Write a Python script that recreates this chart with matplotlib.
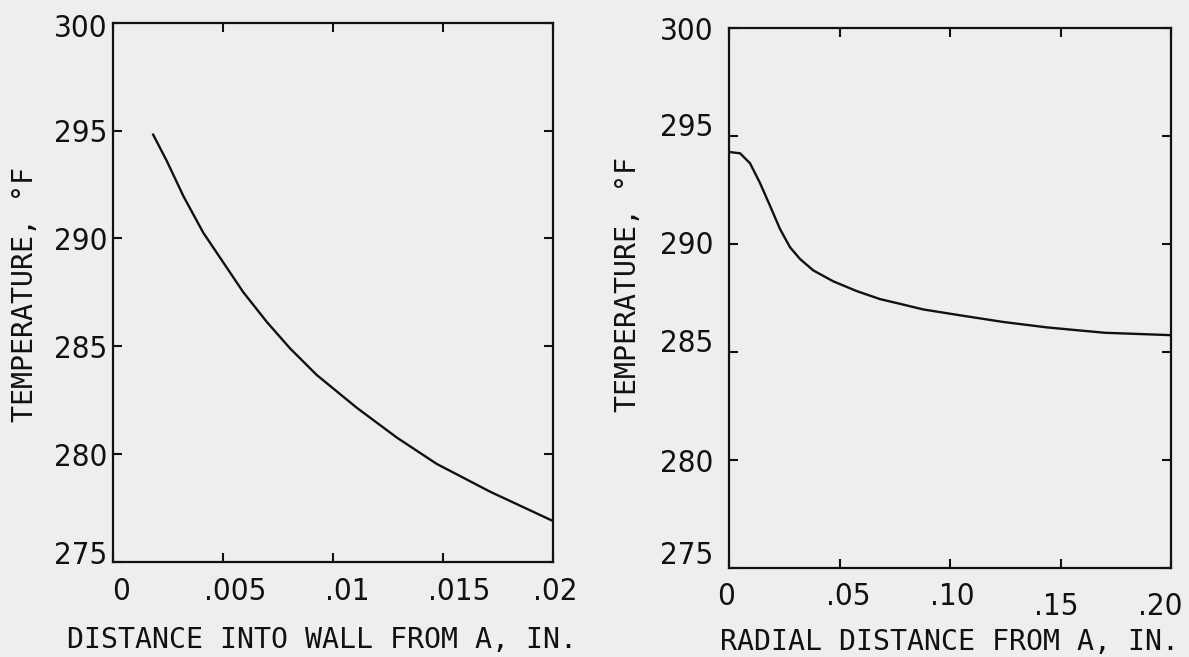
import matplotlib
matplotlib.use("Agg")
import matplotlib.pyplot as plt
from matplotlib.transforms import ScaledTranslation

# ---------------- data ----------------
x_wall = [0.0018, 0.00244, 0.0032, 0.0041, 0.00501, 0.00592, 0.00699, 0.00805,
          0.00926, 0.01108, 0.0129, 0.01471, 0.01714, 0.0200]
t_wall = [294.86, 293.60, 291.96, 290.27, 288.89, 287.51, 286.13, 284.90,
          283.67, 282.15, 280.77, 279.55, 278.26, 276.90]

x_rad = [0.0, 0.005, 0.0095, 0.014, 0.0186, 0.0231, 0.0276, 0.0321, 0.0381,
         0.0472, 0.0578, 0.0683, 0.0774, 0.0879, 0.1045, 0.1241, 0.1438,
         0.1573, 0.1701, 0.200]
t_rad = [294.26, 294.20, 293.74, 292.83, 291.76, 290.69, 289.85, 289.31,
         288.78, 288.27, 287.82, 287.45, 287.23, 286.97, 286.70, 286.39,
         286.14, 286.01, 285.89, 285.78]

y_ticks = [275, 280, 285, 290, 295, 300]
y_ticklabels = ["275", "280", "285", "290", "295", "300"]
xw_ticks = [0, 0.005, 0.01, 0.015, 0.02]
xw_ticklabels = ["0", ".005", ".01", ".015", ".02"]
xr_ticks = [0, 0.05, 0.10, 0.15, 0.20]
xr_ticklabels = ["0", ".05", ".10", ".15", ".20"]

xlabel_wall = "DISTANCE INTO WALL FROM A, IN."
xlabel_rad = "RADIAL DISTANCE FROM A, IN."
ylabel = "TEMPERATURE, \u00b0F"

# ---------------- style ----------------
BG = "#eeeeee"
INK = "#111111"
W, H, DPI = 1189, 657, 100
TICK_FONT = dict(family="DejaVu Sans", stretch="condensed", size=22.5)
LABEL_FONT = dict(family="DejaVu Sans Mono", size=20.3)

fig = plt.figure(figsize=(W / DPI, H / DPI), dpi=DPI, facecolor=BG)

def frac(x0, x1, ytop, ybot):
    return [x0 / W, 1 - ybot / H, (x1 - x0) / W, (ybot - ytop) / H]

ax1 = fig.add_axes(frac(113, 553, 22.7, 562))
ax2 = fig.add_axes(frac(729, 1171, 28, 568))

def style(ax, xt, xtl, xlim, ypad, xpad, xoff, yoff):
    ax.set_facecolor(BG)
    ax.set_xlim(*xlim)
    ax.set_ylim(275, 300)
    ax.set_xticks(xt)
    ax.set_xticklabels(xtl, **TICK_FONT, color=INK)
    ax.set_yticks(y_ticks)
    ax.set_yticklabels(y_ticklabels, **TICK_FONT, color=INK)
    for s in ax.spines.values():
        s.set_linewidth(1.6)
        s.set_color(INK)
    ax.tick_params(axis="both", direction="in", length=6.5, width=1.5,
                   color=INK, top=True, right=True)
    ax.tick_params(axis="y", pad=ypad)
    ax.tick_params(axis="x", pad=xpad)
    for lab, (dx, dy) in zip(ax.get_xticklabels(), xoff):
        lab.set_transform(lab.get_transform() +
                          ScaledTranslation(dx / DPI, -dy / DPI, fig.dpi_scale_trans))
    for lab, (dx, dy) in zip(ax.get_yticklabels(), yoff):
        lab.set_transform(lab.get_transform() +
                          ScaledTranslation(dx / DPI, -dy / DPI, fig.dpi_scale_trans))

style(ax1, xw_ticks, xw_ticklabels, (0, 0.02), 4.3, 11.0,
      [(8, 0), (12, 0), (14, 0), (16, 0), (2, 0)],
      [(0, -9), (0, 0), (0, 0), (0, 0), (0, 0), (0, 3)])
style(ax2, xr_ticks, xr_ticklabels, (0, 0.20), 11.5, 10.0,
      [(-3, 0), (9, 0), (2, 0), (-4, 10), (-11, 10)],
      [(0, -15), (0, 0), (0, -12), (0, -2), (0, -11), (0, 0)])

ax1.plot(x_wall, t_wall, color=INK, lw=1.7, solid_capstyle="butt")
ax2.plot(x_rad, t_rad, color=INK, lw=1.7, solid_capstyle="butt")

fig.text(322 / W, 1 - 640 / H, xlabel_wall, ha="center", va="center",
         color=INK, **LABEL_FONT)
fig.text(950 / W, 1 - 642 / H, xlabel_rad, ha="center", va="center",
         color=INK, **LABEL_FONT)
fig.text(25 / W, 1 - 295 / H, ylabel, ha="center", va="center", rotation=90,
         color=INK, **LABEL_FONT)
fig.text(628 / W, 1 - 284 / H, ylabel, ha="center", va="center", rotation=90,
         color=INK, **LABEL_FONT)

fig.savefig("out.png", dpi=DPI, facecolor=BG)
